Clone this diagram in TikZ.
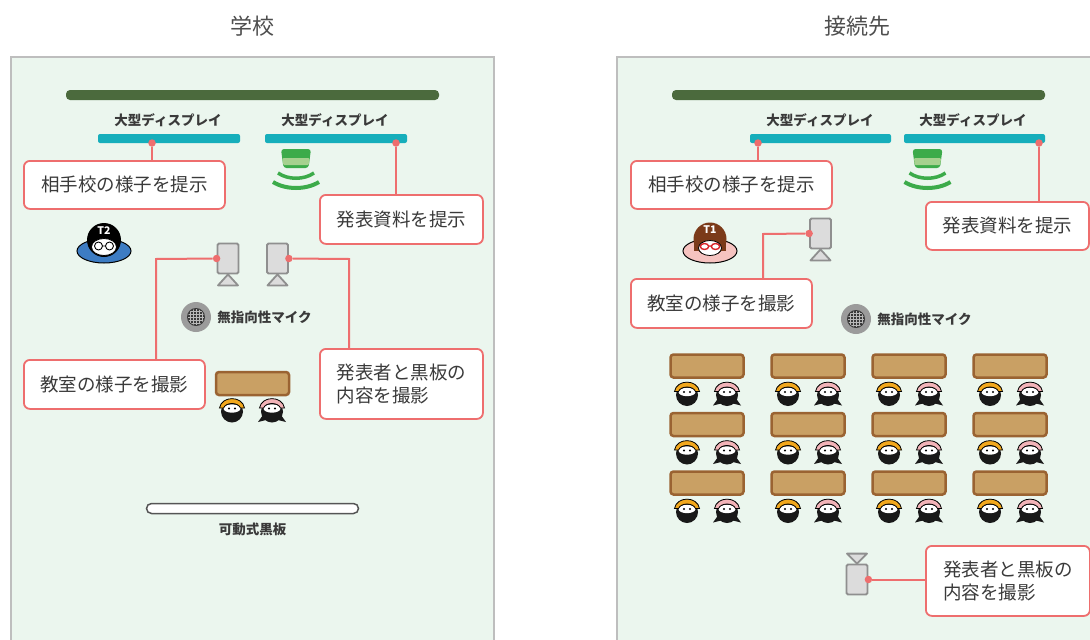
\documentclass[tikz,border=0pt]{standalone}
\usepackage{fontspec}
\setmainfont{Noto Sans CJK JP}
\usetikzlibrary{positioning,calc}

\definecolor{panelgreen}{HTML}{EBF6EE}
\definecolor{panelgrey}{HTML}{BEBEBE}
\definecolor{walldark}{HTML}{4B6A3D}
\definecolor{screencyan}{HTML}{16AEBB}
\definecolor{calloutred}{HTML}{EE6E6E}
\definecolor{textgrey}{HTML}{3A3A3A}
\definecolor{camgrey}{HTML}{DCDCDC}
\definecolor{camedge}{HTML}{8F8F8F}
\definecolor{micgrey}{HTML}{9B9B9B}
\definecolor{micdark}{HTML}{3A3A3A}
\definecolor{deskfill}{HTML}{C9A064}
\definecolor{deskedge}{HTML}{9A6332}
\definecolor{boardedge}{HTML}{555555}
\definecolor{signalgreen}{HTML}{3CAB4A}
\definecolor{signallight}{HTML}{A6D18F}
\definecolor{teachblue}{HTML}{3D7CC3}
\definecolor{hairbrown}{HTML}{7B3A19}
\definecolor{skinpink}{HTML}{F6C3C0}
\definecolor{capyellow}{HTML}{F2A81D}
\definecolor{cappink}{HTML}{F2B3B8}
\definecolor{glassred}{HTML}{D9252A}

% small figures
\tikzset{
  pupil/.pic={
    \fill[black!90] (0,1.5) circle (11);
    \fill[white] (0,-1.5) ellipse (8.5 and 4.2);
    \fill[black] (-3,-1.5) circle (1.1) (3,-1.5) circle (1.1);
    \filldraw[fill=#1,draw=black,line width=0.8pt]
      (-12.5,-2) .. controls (-10.5,-14.5) and (10.5,-14.5) .. (12.5,-2)
      -- (8.5,-2) .. controls (6,-8) and (-6,-8) .. (-8.5,-2) -- cycle;
  },
  girl/.pic={
    \fill[black!90] (-9,5) -- (-14,12) -- (-6,10) -- cycle;
    \fill[black!90] (9,5) -- (14,12) -- (6,10) -- cycle;
    \pic {pupil=cappink};
  },
  boy/.pic={\pic {pupil=capyellow};},
  teacher/.pic={
    \filldraw[fill=#1,draw=black,line width=1pt] (0,11) ellipse (27 and 12);
  },
  signal/.pic={
    \fill[signalgreen,rounded corners=3pt] (-15,-20) -- (15,-20) -- (12.5,-1) -- (-12.5,-1) -- cycle;
    \fill[signallight,rounded corners=1pt] (-13.5,-11) -- (13.5,-11) -- (12.8,-4) -- (-12.8,-4) -- cycle;
    \draw[signalgreen,line width=3.5pt] (-18,4) .. controls (-8,11) and (8,11) .. (18,4);
    \draw[signalgreen,line width=4pt] (-23,13) .. controls (-10,21) and (10,21) .. (23,13);
  }
}

\begin{document}
\begin{tikzpicture}[x=1pt,y=-1pt,
  panel/.style={draw=panelgrey,line width=2pt,fill=panelgreen},
  title/.style={font=\fontsize{22}{24}\selectfont,text=textgrey!90},
  wall bar/.style={fill=walldark,rounded corners=4pt,minimum width=373pt,minimum height=10pt,inner sep=0pt},
  screen bar/.style={fill=screencyan,rounded corners=2pt,minimum width=142pt,minimum height=9pt,inner sep=0pt},
  small label/.style={font=\bfseries\fontsize{13.5}{15}\selectfont,text=textgrey,inner sep=0pt},
  callout/.style={draw=calloutred,line width=1.8pt,fill=white,rounded corners=6pt,
    align=left,font=\fontsize{18.5}{23}\selectfont,text=textgrey,anchor=north west,inner sep=0pt},
  callout line/.style={draw=calloutred,line width=2pt},
  red dot/.style={circle,fill=calloutred,inner sep=0pt,minimum size=7.5pt},
  camera/.style={rectangle,fill=camgrey,draw=camedge,line width=1.8pt,rounded corners=1.5pt,
    minimum width=21pt,minimum height=30pt,inner sep=0pt},
  stand/.style={fill=camgrey,draw=camedge,line width=1.8pt,line join=round},
  mic/.style={circle,fill=micgrey,minimum size=30pt,inner sep=0pt,
    path picture={
      \fill[micdark] (path picture bounding box.center) circle (9pt);
      \begin{scope}
        \clip (path picture bounding box.center) circle (8pt);
        \draw[micgrey!70,line width=0.6pt,shift={(path picture bounding box.center)}]
          (-9pt,-9pt) grid[step=3pt] (9pt,9pt);
      \end{scope}}},
  desk/.style={rectangle,fill=deskfill,draw=deskedge,line width=2.5pt,rounded corners=3pt,
    minimum width=73pt,minimum height=23pt,inner sep=0pt},
  board/.style={rectangle,fill=white,draw=boardedge,line width=1.5pt,rounded corners=5pt,
    minimum width=212pt,minimum height=10pt,inner sep=0pt},
  head text/.style={font=\bfseries\fontsize{10.5}{10.5}\selectfont,text=white,inner sep=0pt}]

\useasboundingbox (0,0) rectangle (1090,640);
\clip (0,0) rectangle (1090,640);

% ---------- school side ----------
\node[title] (t1) at (252,26) {学校};
\path[panel] (11,57) rectangle (494,660);

\node[wall bar] (lwall) at (252.5,95) {};
\node[screen bar] (lscr1) at (169,138.5) {};
\node[screen bar] (lscr2) at (336,138.5) {};
\node[small label] (llab1) at (168,120) {大型ディスプレイ};
\node[small label] (llab2) at (335,120) {大型ディスプレイ};
\pic at (296,169) {signal};

\node[callout,minimum width=201pt,minimum height=48pt] (lbox1) at (23,160) {相手校の様子を提示};
\node[callout,minimum width=163pt,minimum height=49pt] (lbox2) at (319,194) {発表資料を提示};
\node[callout,minimum width=181pt,minimum height=49pt] (lbox3) at (23,359) {教室の様子を撮影};
\node[callout,minimum width=163pt,minimum height=70pt] (lbox4) at (319,348) {発表者と黒板の\\内容を撮影};

% teacher T2
\pic at (104,240) {teacher=teachblue};
\fill[black] (104,240) circle (17);
\filldraw[fill=white,draw=black,line width=0.8pt] (104,247) ellipse (12.5 and 8.5);
\draw[black,line width=0.9pt] (98.5,246) circle (4) (109.5,246) circle (4) (102.5,246) -- (105.5,246);
\node[head text] (lt) at (104,231) {T2};

% cameras
\node[camera] (lcam1) at (228,258.5) {};
\node[camera] (lcam2) at (277.5,258.5) {};
\path[stand] (lcam1.south) -- ++(-10,11) -- ++(20,0) -- cycle;
\path[stand] (lcam2.south) -- ++(-10,11) -- ++(20,0) -- cycle;

\node[mic] (lmic) at (196,317) {};
\node[small label,right=6pt of lmic] (lmiclab) {無指向性マイク};

\node[desk] (ldesk) at (252.5,383.5) {};
\pic at (232,410) {boy};
\pic at (272,410) {girl};

\node[board] (lboard) at (252.5,508.5) {};
\node[small label,below=8pt of lboard] (lboardlab) {可動式黒板};

% leader lines
\node[red dot] (ld1) at (152,143) {};
\node[red dot] (ld2) at (396,143) {};
\node[red dot] (ld3) at (lcam1.west) {};
\node[red dot] (ld4) at (lcam2.east) {};
\coordinate (lturn3) at (156,259);
\coordinate (lturn4) at (349,259);
\draw[callout line] (ld1) -- (ld1 |- lbox1.north);
\draw[callout line] (ld2) -- (ld2 |- lbox2.north);
\draw[callout line] (ld3) -- (lturn3) -- (lturn3 |- lbox3.north);
\draw[callout line] (ld4) -- (lturn4) -- (lturn4 |- lbox4.north);

% ---------- remote side ----------
\node[title] (t2) at (857,26) {接続先};
\path[panel] (617,57) rectangle (1110,660);

\node[wall bar] (rwall) at (858.5,95) {};
\node[screen bar,minimum width=141pt] (rscr1) at (820.5,138.5) {};
\node[screen bar,minimum width=141pt] (rscr2) at (974.5,138.5) {};
\node[small label] (rlab1) at (820,120) {大型ディスプレイ};
\node[small label] (rlab2) at (973,120) {大型ディスプレイ};
\pic at (927.5,169) {signal};

\node[callout,minimum width=201pt,minimum height=48pt] (rbox1) at (630,160) {相手校の様子を提示};
\node[callout,minimum width=163pt,minimum height=48pt] (rbox2) at (925,201) {発表資料を提示};
\node[callout,minimum width=181pt,minimum height=49pt] (rbox3) at (630,278) {教室の様子を撮影};
\node[callout,minimum width=164pt,minimum height=70pt] (rbox4) at (925,545) {発表者と黒板の\\内容を撮影};

% teacher T1
\pic at (710,240) {teacher=skinpink};
\fill[hairbrown] (710,239) circle (16.5);
\fill[hairbrown] (694,238) rectangle (726,251);
\filldraw[fill=white,draw=black,line width=0.8pt] (710,248) ellipse (11.5 and 7.5);
\draw[glassred,line width=1.4pt] (704.5,246.5) ellipse (4.2 and 3) (715.5,246.5) ellipse (4.2 and 3) (708.7,246) -- (711.3,246);
\node[head text] (rt) at (710,230) {T1};

% cameras
\node[camera] (rcam1) at (820.5,233.5) {};
\path[stand] (rcam1.south) -- ++(-10,11) -- ++(20,0) -- cycle;
\node[camera] (rcam2) at (857,579.5) {};
\path[stand] (rcam2.north) -- ++(-10,-10) -- ++(20,0) -- cycle;

\node[mic] (rmic) at (856,319) {};
\node[small label,right=6pt of rmic] (rmiclab) {無指向性マイク};

% desks and pupils
\foreach \c in {0,1,2,3}
  \foreach \r in {0,1,2} {
    \node[desk] (rdesk\c\r) at (707+101*\c,366+58.5*\r) {};
    \pic at (687+101*\c,393.5+58.5*\r) {boy};
    \pic at (727+101*\c,393.5+58.5*\r) {girl};
  }

% leader lines
\node[red dot] (rd1) at (758,143) {};
\node[red dot] (rd2) at (1039,143) {};
\node[red dot] (rd3) at (rcam1.west) {};
\node[red dot] (rd4) at (rcam2.east) {};
\coordinate (rturn3) at (763,234);
\draw[callout line] (rd1) -- (rd1 |- rbox1.north);
\draw[callout line] (rd2) -- (rd2 |- rbox2.north);
\draw[callout line] (rd3) -- (rturn3) -- (rturn3 |- rbox3.north);
\draw[callout line] (rd4) -- (rd4 -| rbox4.west);

\end{tikzpicture}
\end{document}
